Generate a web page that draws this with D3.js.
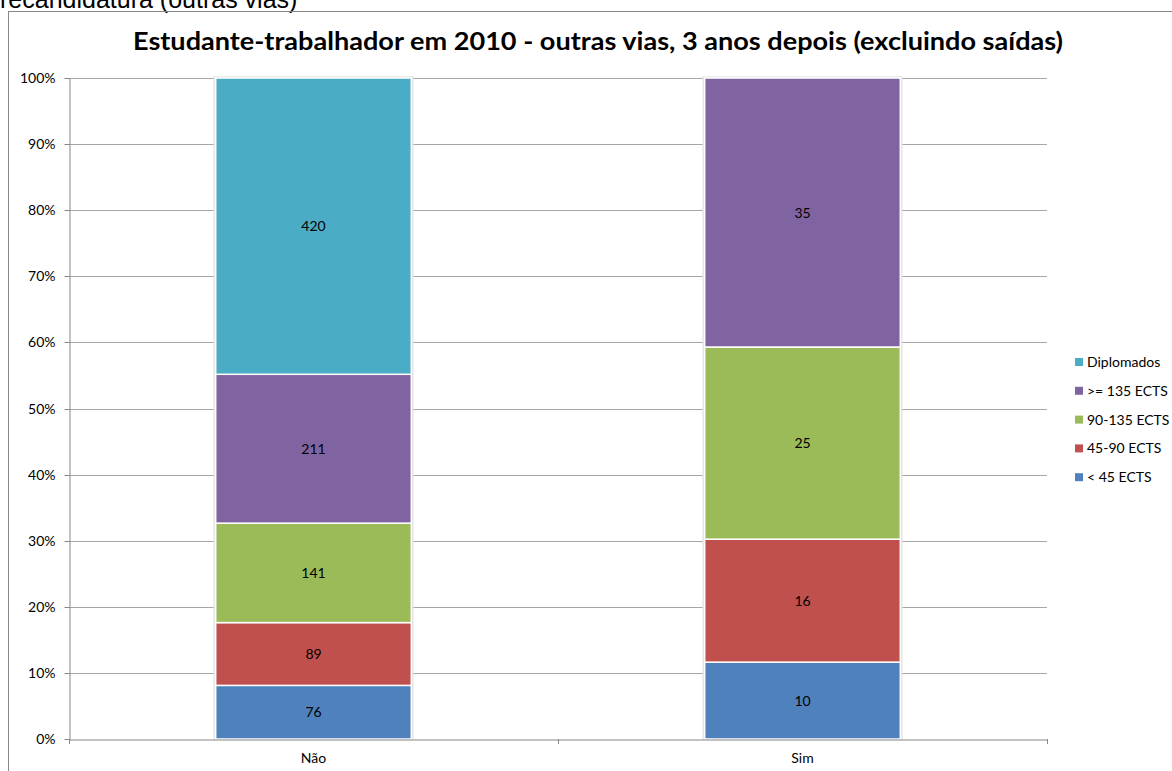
<!DOCTYPE html>
<html><head><meta charset="utf-8">
<script src="https://cdn.jsdelivr.net/npm/d3@7"></script>
<style>html,body{margin:0;padding:0;background:#fff;overflow:hidden}</style>
</head><body>
<svg id="c" width="1172" height="771"></svg>
<script>
const categories = ["Não", "Sim"];
const seriesNames = ["< 45 ECTS", "45-90 ECTS", "90-135 ECTS", ">= 135 ECTS", "Diplomados"];
const lt45 = [76, 10];
const e45_90 = [89, 16];
const e90_135 = [141, 25];
const ge135 = [211, 35];
const diplomados = [420, 0];
const seriesColors = ["#4F81BD", "#C0504D", "#9BBB59", "#8064A2", "#4BACC6"];
const yTicks = [0, 0.1, 0.2, 0.3, 0.4, 0.5, 0.6, 0.7, 0.8, 0.9, 1.0];
const titleText = "Estudante-trabalhador em 2010 - outras vias, 3 anos depois (excluindo saídas)";
const topText = "recandidatura (outras vias)";

const seriesValues = [lt45, e45_90, e90_135, ge135, diplomados];
const rows = categories.map((c, i) => {
  const r = {cat: c};
  seriesNames.forEach((s, k) => r[s] = seriesValues[k][i]);
  return r;
});
const stack = d3.stack().keys(seriesNames).offset(d3.stackOffsetExpand)(rows);

const svg = d3.select("#c");
const font = "Lato, 'Open Sans', sans-serif";
const fs = 14;

svg.append("text").attr("x", 0).attr("y", 7.5)
  .attr("font-family", "Arial, 'Liberation Sans', sans-serif").attr("font-size", 25)
  .attr("fill", "#000").text(topText);

svg.append("rect").attr("x", 8.5).attr("y", 11.5).attr("width", 1200).attr("height", 800)
  .attr("fill", "none").attr("stroke", "#868686");

svg.append("text").attr("x", 133).attr("y", 49.5)
  .attr("font-family", font).attr("font-weight", "bold").attr("font-size", 25)
  .attr("textLength", 930).attr("lengthAdjust", "spacingAndGlyphs")
  .attr("fill", "#000").text(titleText);

const x = d3.scaleBand().domain(categories).range([69, 1047]).padding(0);
const y = d3.scaleLinear().domain([0, 1]).range([739, 78]);

svg.append("g").selectAll("line").data(yTicks.slice(1)).join("line")
  .attr("x1", 69).attr("x2", 1047)
  .attr("y1", d => Math.round(y(d)) + 0.5).attr("y2", d => Math.round(y(d)) + 0.5)
  .attr("stroke", "#A6A6A6").attr("stroke-width", 1);

const yAxis = svg.append("g").attr("transform", "translate(69.5,0)")
  .call(d3.axisLeft(y).tickValues(yTicks).tickFormat(d3.format(".0%")).tickSizeInner(5).tickSizeOuter(0).tickPadding(9));
yAxis.select(".domain").attr("stroke", "#868686");
yAxis.selectAll(".tick line").attr("stroke", "#868686");
yAxis.selectAll(".tick text").attr("font-family", font).attr("font-size", fs).attr("fill", "#000");
yAxis.selectAll(".tick").attr("transform", d => `translate(0,${Math.round(y(d)) + 0.5})`);

const barW = x.bandwidth() * 0.4;
const cx = c => x(c) + x.bandwidth() / 2;

const g = svg.append("g");
stack.forEach((layer, k) => {
  layer.forEach((seg, i) => {
    const v = seriesValues[k][i];
    if (!v) return;
    g.append("rect")
      .attr("x", cx(categories[i]) - barW / 2)
      .attr("y", y(seg[1]))
      .attr("width", barW)
      .attr("height", y(seg[0]) - y(seg[1]))
      .attr("fill", seriesColors[k])
      .attr("stroke", "#fff").attr("stroke-width", 1.5);
  });
});
categories.forEach(c => {
  g.insert("rect", ":first-child")
    .attr("x", cx(c) - barW / 2 - 1.5).attr("y", y(1) - 1)
    .attr("width", barW + 3).attr("height", y(0) - y(1) + 1)
    .attr("fill", "none").attr("stroke", "#E4E4E4").attr("stroke-width", 1.5);
});

stack.forEach((layer, k) => {
  layer.forEach((seg, i) => {
    const v = seriesValues[k][i];
    if (!v) return;
    svg.append("text").attr("x", cx(categories[i])).attr("y", (y(seg[0]) + y(seg[1])) / 2 + 5)
      .attr("text-anchor", "middle").attr("font-family", font).attr("font-size", fs)
      .attr("fill", "#000").text(v);
  });
});

const xAxis = svg.append("g").attr("transform", "translate(0,739.5)")
  .call(d3.axisBottom(x).tickSize(0).tickPadding(14));
xAxis.select(".domain").attr("stroke", "#868686");
xAxis.selectAll(".tick text").attr("font-family", font).attr("font-size", fs).attr("fill", "#000");
const xTickPos = [x.range()[0], x(categories[1]), x.range()[1]];
svg.append("g").selectAll("line").data(xTickPos).join("line")
  .attr("x1", d => Math.round(d) + 0.5).attr("x2", d => Math.round(d) + 0.5)
  .attr("y1", 739).attr("y2", 744).attr("stroke", "#868686");

const legendNames = seriesNames.slice().reverse();
const legendColors = seriesColors.slice().reverse();
const lg = svg.append("g");
legendNames.forEach((n, i) => {
  const ly = 362 + i * 28.8;
  lg.append("rect").attr("x", 1075).attr("y", ly - 4).attr("width", 8).attr("height", 8).attr("fill", legendColors[i]);
  lg.append("text").attr("x", 1087).attr("y", ly + 5).attr("font-family", font).attr("font-size", fs)
    .attr("fill", "#000").text(n);
});
</script>
</body></html>
